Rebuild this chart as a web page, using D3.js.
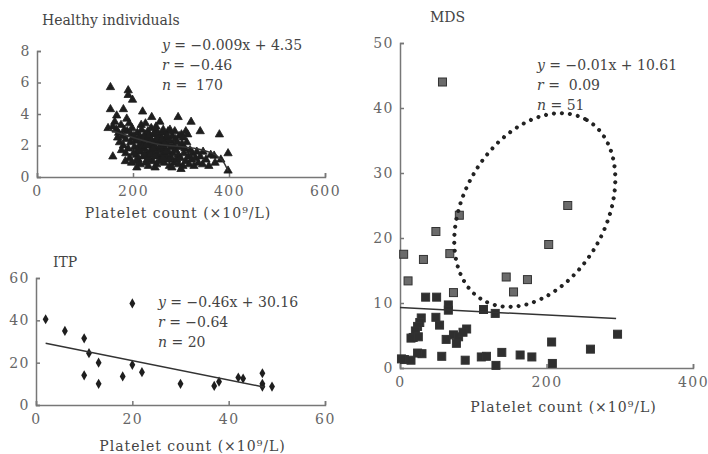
<!DOCTYPE html>
<html>
<head>
<meta charset="utf-8">
<script src="https://cdn.jsdelivr.net/npm/d3@7"></script>
<style>
  body { margin: 0; background: #fff; }
  svg text { font-family: "DejaVu Serif", "Liberation Serif", serif; fill: #444; }
  .axis path, .axis line { stroke: #777; stroke-width: 1.5; }
  .axis text { font-size: 14px; fill: #666; font-family: "DejaVu Serif", serif; letter-spacing: 1.5px; }
</style>
</head>
<body>
<svg id="chart" width="708" height="454"></svg>
<script>
// Healthy individuals: [platelet count, value]
const healthyPts = [
  [153,5.7],[190,5.5],[190,5.2],[199,4.9],[153,4.3],[180,4.3],[220,4.15],[239,3.8],[294,3.8],[321,3.5],
  [148,3.1],[340,2.9],[380,2.7],[301,2.7],[314,2.7],[277,3.0],[158,1.3],[346,1.6],[369,1.35],[398,1.5],
  [398,0.4],[166,3.9],[187,3.7],[162,3.5],
  [158,3.2],[165,3.0],[170,2.8],[175,3.3],[178,2.6],[182,3.0],[185,2.4],[188,2.9],[192,3.4],[195,2.2],
  [172,2.2],[168,2.5],[180,2.0],[190,1.8],[196,2.7],[185,1.5],[193,1.2],[176,1.7],[198,3.1],[200,2.5],
  [203,1.9],[205,2.3],[207,1.4],[209,2.8],[211,1.1],[213,2.0],[214,2.6],[216,1.6],[218,3.0],[220,2.2],
  [221,1.3],[223,1.8],[225,2.7],[226,0.9],[228,2.4],[229,1.5],[231,2.9],[232,2.0],[234,1.2],[235,2.5],
  [237,1.7],[238,3.1],[240,2.1],[241,1.0],[243,2.7],[244,1.5],[246,2.3],[247,1.9],[249,0.8],[250,2.9],
  [252,1.4],[253,2.2],[255,1.7],[256,2.6],[258,1.1],[259,2.0],[261,2.8],[262,1.5],[264,2.3],[265,0.9],
  [267,1.8],[268,2.5],[270,1.3],[271,2.1],[273,2.9],[274,1.6],[276,0.7],[277,2.3],[279,1.9],[280,1.2],
  [282,2.6],[283,1.5],[285,2.0],[286,0.9],[288,2.4],[289,1.7],[291,1.1],[292,2.2],[294,1.4],[295,0.8],
  [202,2.6],[206,1.0],[210,1.7],[212,2.4],[215,0.8],[219,1.9],[222,2.5],[224,1.4],[227,2.0],[230,1.1],
  [233,2.6],[236,1.4],[239,2.3],[242,1.8],[245,2.8],[248,1.3],[251,2.4],[254,1.0],[257,1.9],[260,2.4],
  [263,1.2],[266,2.1],[269,1.6],[272,2.6],[275,1.1],
  [297,1.9],[299,1.2],[302,2.1],[304,0.7],[306,1.5],[308,1.8],[310,1.0],[312,2.2],[315,1.3],[317,0.8],
  [319,1.7],[322,1.1],[324,1.5],[327,0.7],[330,1.2],[333,1.6],[336,0.9],[340,1.3],[345,0.8],[352,1.1],
  [358,0.7],[362,1.4],[371,0.9],[383,1.1],
  [184,1.0],[197,0.9],[201,1.5],[208,0.6],[217,3.3],[226,3.4],[248,3.2],[256,3.5],[263,3.0],[287,2.9],
  [296,2.6],[305,2.5],[310,2.9],[246,0.6],[232,0.7],[281,0.6],[300,0.5]
];
const healthyTrend = [[150,3.0],[250,2.1],[340,1.75],[385,1.1],[398,0.4]];
const healthyStats = [['y', ' = \u22120.009x + 4.35'], ['r', ' = \u22120.46'], ['n', ' =  170']];

// ITP
const itpPts = [
  [2,40.5],[6,35],[10,31.5],[11,24.5],[10,14],[13,20],[13,10],[18,13.5],[20,48],[20,19],
  [22,15.5],[30,10],[37,9],[38,11],[43,12.5],[42,13],[47,15],[47,10],[47,8.7],[49,8.7]
];
const itpTrend = [[2,29.2],[47.5,8.4]];
const itpStats = [['y', ' = \u22120.46x + 30.16'], ['r', ' = \u22120.64'], ['n', ' = 20']];

// MDS
const mdsPts = [
  [58,44],[229,25],[81,23.5],[49,21],[5,17.5],[32,16.7],[68,17.6],[203,19],[11,13.4],[145,14],
  [174,13.6],[155,11.7],[73,11.6],[35,10.9],[50,10.9],[66,9.7],[66,8.9],[114,9],[130,8.4],[29,7.7],
  [27,7],[24,6.4],[21,5.7],[18,4.7],[15,4.6],[25,4.8],[49,7.8],[54,6.6],[63,4.4],[73,5.1],
  [80,4.8],[77,3.8],[91,6],[6,1.3],[15,1.2],[30,2.2],[57,1.8],[89,1.2],[111,1.7],[118,1.8],
  [139,2.4],[131,0.4],[164,2],[180,1.7],[208,0.7],[207,4],[260,2.9],[297,5.2],[2,1.4],[24,2.3],
  [86,5.5]
];
const mdsTrend = [[0,9.3],[295,7.6]];
const mdsStats = [['y', ' = \u22120.01x + 10.61'], ['r', ' =  0.09'], ['n', ' = 51']];
const mdsEllipse = { cx: 184, cy: 24.3 };

const xLabel = 'Platelet count (\u00d710\u2079/L)';

const svg = d3.select('#chart');

function panel(opts) {
  const x = d3.scaleLinear().domain(opts.xDomain).range(opts.xRange);
  const y = d3.scaleLinear().domain(opts.yDomain).range(opts.yRange);
  const g = svg.append('g');

  g.append('g')
    .attr('class', 'axis')
    .attr('transform', `translate(0,${opts.yRange[0]})`)
    .call(d3.axisBottom(x).tickValues(opts.xTicks).tickSize(-4).tickSizeOuter(-4).tickPadding(9));

  g.append('g')
    .attr('class', 'axis')
    .attr('transform', `translate(${opts.xRange[0]},0)`)
    .call(d3.axisLeft(y).tickValues(opts.yTicks).tickSize(-4).tickSizeOuter(-4).tickPadding(6));

  g.append('text')
    .attr('x', opts.titlePos[0]).attr('y', opts.titlePos[1])
    .style('font-size', '14px')
    .text(opts.title);

  const stat = g.selectAll('.stat')
    .data(opts.stats)
    .enter().append('text')
    .attr('x', opts.statPos[0])
    .attr('y', (d, i) => opts.statPos[1] + i * opts.statGap)
    .style('font-size', '14px');
  stat.append('tspan').style('font-style', 'italic').text(d => d[0]);
  stat.append('tspan').attr('xml:space', 'preserve').style('white-space', 'pre').text(d => d[1]);

  g.append('text')
    .attr('x', (opts.xRange[0] + opts.xRange[1]) / 2 + opts.labelDx)
    .attr('y', opts.labelY)
    .attr('text-anchor', 'middle')
    .style('font-size', '14px')
    .style('letter-spacing', '1px')
    .text(xLabel);

  return { g, x, y };
}

// Healthy individuals
{
  const { g, x, y } = panel({
    xDomain: [0, 600], yDomain: [0, 8], xRange: [37, 325], yRange: [177, 51],
    xTicks: [0, 200, 400, 600], yTicks: [0, 2, 4, 6, 8],
    title: 'Healthy individuals', titlePos: [42, 25],
    stats: healthyStats, statPos: [162, 50], statGap: 20,
    labelDx: -3, labelY: 218
  });
  g.selectAll('.pt')
    .data(healthyPts)
    .enter().append('path')
    .attr('d', d3.symbol(d3.symbolTriangle, 30))
    .attr('transform', d => `translate(${x(d[0])},${y(d[1])})`)
    .attr('fill', '#1e1e1e')
    .attr('stroke', '#1e1e1e')
    .attr('stroke-width', 0.8);
  g.append('path')
    .datum(healthyTrend)
    .attr('fill', 'none')
    .attr('stroke', '#333')
    .attr('stroke-width', 1.5)
    .attr('d', d3.line().x(d => x(d[0])).y(d => y(d[1])).curve(d3.curveMonotoneX));
}

// ITP
{
  const { g, x, y } = panel({
    xDomain: [0, 60], yDomain: [0, 60], xRange: [36, 325], yRange: [405, 278],
    xTicks: [0, 20, 40, 60], yTicks: [0, 20, 40, 60],
    title: 'ITP', titlePos: [53, 267],
    stats: itpStats, statPos: [158, 307], statGap: 20,
    labelDx: 12, labelY: 451
  });
  g.selectAll('.pt')
    .data(itpPts)
    .enter().append('path')
    .attr('d', d3.symbol(d3.symbolDiamond, 30))
    .attr('transform', d => `translate(${x(d[0])},${y(d[1])})`)
    .attr('fill', '#1e1e1e');
  g.append('path')
    .datum(itpTrend)
    .attr('fill', 'none')
    .attr('stroke', '#333')
    .attr('stroke-width', 1.5)
    .attr('d', d3.line().x(d => x(d[0])).y(d => y(d[1])));
}

// MDS
{
  const { g, x, y } = panel({
    xDomain: [0, 400], yDomain: [0, 50], xRange: [400, 693], yRange: [368, 43],
    xTicks: [0, 200, 400], yTicks: [0, 10, 20, 30, 40, 50],
    title: 'MDS', titlePos: [430, 22],
    stats: mdsStats, statPos: [537, 70], statGap: 20,
    labelDx: 17, labelY: 412
  });
  g.selectAll('.pt')
    .data(mdsPts)
    .enter().append('rect')
    .attr('x', d => x(d[0]) - 4)
    .attr('y', d => y(d[1]) - 4)
    .attr('width', 8)
    .attr('height', 8)
    .attr('fill', d => d[1] > 11 ? '#6b6b6b' : '#2f2f2f')
    .attr('stroke', '#333')
    .attr('stroke-width', 1);
  g.append('path')
    .datum(mdsTrend)
    .attr('fill', 'none')
    .attr('stroke', '#333')
    .attr('stroke-width', 1.5)
    .attr('d', d3.line().x(d => x(d[0])).y(d => y(d[1])));
  g.append('ellipse')
    .attr('cx', 0).attr('cy', 0)
    .attr('rx', 104).attr('ry', 71)
    .attr('transform', `translate(${x(mdsEllipse.cx)},${y(mdsEllipse.cy)}) rotate(-60)`)
    .attr('fill', 'none')
    .attr('stroke', '#222')
    .attr('stroke-width', 4)
    .attr('stroke-linecap', 'round')
    .attr('stroke-dasharray', '0 8');
}
</script>
</body>
</html>
